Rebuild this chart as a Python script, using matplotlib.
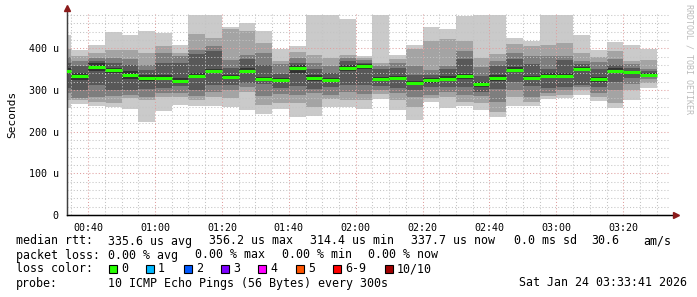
import numpy as np
from matplotlib import pyplot as plt

# ---------------- data (microseconds) ----------------
# 5 minute steps, value of each step covers (t-5min, t], minutes after 00:00
step_end = np.arange(35, 215, 5)

median = [346, 333, 355, 347, 337, 329, 330, 322, 334, 345,
          331, 346, 326, 325, 353, 330, 325, 354, 357, 327,
          330, 318, 323, 327, 333, 314, 329, 349, 329, 334,
          334, 350, 326, 346, 343, 337]

# 10 sorted pings per step
pings = [
    [258, 276, 292, 305, 340, 352, 365, 380, 398, 433],
    [267, 275, 282, 300, 325, 341, 358, 370, 382, 397],
    [262, 272, 283, 312, 345, 365, 370, 378, 390, 408],
    [259, 270, 285, 300, 340, 354, 365, 378, 397, 440],
    [254, 280, 288, 300, 326, 345, 360, 375, 397, 433],
    [224, 275, 283, 303, 322, 336, 348, 361, 389, 442],
    [250, 283, 292, 305, 325, 335, 365, 389, 406, 438],
    [263, 283, 294, 310, 318, 328, 365, 381, 390, 409],
    [262, 276, 286, 300, 328, 340, 387, 397, 435, 481],
    [262, 283, 296, 312, 340, 350, 393, 406, 426, 481],
    [260, 280, 300, 312, 326, 336, 352, 372, 447, 451],
    [251, 296, 308, 316, 340, 352, 374, 385, 442, 461],
    [243, 264, 286, 315, 322, 332, 361, 390, 414, 442],
    [255, 268, 290, 305, 320, 330, 339, 363, 369, 399],
    [236, 268, 288, 310, 342, 360, 365, 378, 392, 406],
    [238, 260, 292, 302, 322, 336, 350, 366, 385, 481],
    [260, 278, 288, 307, 320, 330, 341, 357, 377, 481],
    [259, 276, 296, 312, 345, 360, 369, 377, 385, 471],
    [255, 275, 290, 312, 350, 362, 366, 372, 376, 382],
    [279, 290, 300, 310, 322, 332, 350, 358, 365, 481],
    [252, 276, 292, 305, 324, 334, 352, 364, 374, 385],
    [228, 260, 284, 300, 314, 322, 337, 358, 398, 409],
    [272, 280, 288, 307, 318, 328, 337, 347, 417, 451],
    [256, 284, 295, 307, 322, 333, 350, 357, 422, 446],
    [262, 272, 288, 308, 326, 338, 374, 393, 417, 477],
    [251, 268, 286, 296, 308, 320, 334, 355, 377, 481],
    [235, 248, 272, 302, 322, 336, 358, 369, 386, 481],
    [262, 283, 300, 320, 343, 355, 374, 389, 411, 425],
    [262, 272, 283, 310, 324, 334, 363, 382, 406, 418],
    [278, 285, 292, 305, 328, 340, 350, 382, 409, 481],
    [280, 288, 300, 308, 328, 340, 372, 382, 414, 481],
    [288, 300, 307, 312, 345, 356, 363, 369, 389, 433],
    [274, 283, 294, 308, 320, 332, 350, 368, 379, 397],
    [258, 268, 300, 320, 340, 352, 361, 374, 393, 416],
    [276, 300, 315, 329, 340, 346, 352, 362, 370, 409],
    [305, 317, 326, 333, 335, 340, 345, 350, 371, 399],
]

tick_min = [40, 60, 80, 100, 120, 140, 160, 180, 200]
tick_lbl = ['00:40', '01:00', '01:20', '01:40', '02:00', '02:20', '02:40', '03:00', '03:20']
ytick_val = [0, 100, 200, 300, 400]
ytick_lbl = ['0', '100 u', '200 u', '300 u', '400 u']

loss_lbl = ['0', '1', '2', '3', '4', '5', '6-9', '10/10']
loss_col = ['#26ff00', '#00b8ff', '#0059ff', '#7e00ff', '#ff00ff', '#ff5500', '#ff0000', '#a00000']
loss_x = [109, 146, 184, 221, 258, 296, 333, 385]   # pixel x of each legend box

smoke_col = ['#cacaca', '#a4a4a4', '#7e7e7e', '#585858', '#323232']

# ---------------- figure ----------------
W, H = 697, 297
fig = plt.figure(figsize=(W / 100, H / 100), dpi=100)
fig.patch.set_facecolor('white')
ax = fig.add_axes([67 / W, 1 - 215 / H, 602 / W, 202 / H])

p = np.array(pings)
left = step_end - 5
for i in range(5):
    ax.bar(left, p[:, 9 - i] - p[:, i], bottom=p[:, i], width=5, align='edge',
           color=smoke_col[i], linewidth=0, zorder=1)
ax.hlines(median, left, step_end, color=loss_col[0], linewidth=2.2, zorder=3)

ax.set_xlim(33 + 41 / 60, 213 + 41 / 60)
ax.set_ylim(0, 485)

# grid
for m in range(35, 215, 5):
    major = m in tick_min
    ax.axvline(m, color='#e0a0a0' if major else '#c4c4c4', lw=0.75,
               ls=(0, (1, 2)), zorder=2)
for v in range(20, 485, 20):
    major = v % 100 == 0
    ax.axhline(v, color='#e0a0a0' if major else '#c4c4c4', lw=0.75,
               ls=(0, (1, 2)), zorder=2)

for s in ['top', 'right']:
    ax.spines[s].set_visible(False)
ax.spines['left'].set_color('#404040')
ax.spines['bottom'].set_color('black')
ax.plot([0, 1.01], [0, 0], color='black', lw=1, transform=ax.transAxes, clip_on=False)
ax.plot([0, 0], [0, 1.015], color='#404040', lw=1, transform=ax.transAxes, clip_on=False)
ax.plot([1.012], [0], marker='>', color='#8b1a1a', ms=4, transform=ax.transAxes, clip_on=False)
ax.plot([0], [1.025], marker='^', color='#8b1a1a', ms=4, transform=ax.transAxes, clip_on=False)

ax.set_xticks(tick_min)
ax.set_xticklabels(tick_lbl, family='DejaVu Sans Mono', fontsize=7.2)
ax.set_yticks(ytick_val)
ax.set_yticklabels(ytick_lbl, family='DejaVu Sans Mono', fontsize=7.2)
ax.tick_params(length=0, pad=6)
ax.set_ylabel('Seconds', family='DejaVu Sans Mono', fontsize=8, labelpad=8)

fig.text(689 / W, 1 - 4 / H, 'RRDTOOL / TOBI OETIKER', rotation=270, color='#bbbbbb',
         family='DejaVu Sans Mono', fontsize=6, ha='center', va='top')

# ---------------- legend text ----------------
mono = dict(family='DejaVu Sans Mono', fontsize=8.4, va='center', ha='left')


def t(x, y, s):
    fig.text(x / W, 1 - y / H, s, **mono)


t(16, 241, 'median rtt:')
t(108, 241, '335.6 us avg')
t(209, 241, '356.2 us max')
t(310, 241, '314.4 us min')
t(411, 241, '337.7 us now')
t(514, 241, '0.0 ms sd')
t(591, 241, '30.6')
t(643, 241, 'am/s')

t(16, 255, 'packet loss:')
t(108, 255, '0.00 % avg')
t(195, 255, '0.00 % max')
t(282, 255, '0.00 % min')
t(368, 255, '0.00 % now')

t(16, 269, 'loss color:')
for lx, lb, lc in zip(loss_x, loss_lbl, loss_col):
    fig.patches.append(plt.Rectangle((lx / W, 1 - 273 / H), 8 / W, 8 / H,
                                     facecolor=lc, edgecolor='black', lw=0.8,
                                     transform=fig.transFigure, figure=fig))
    t(lx + 12, 269, lb)

t(16, 283, 'probe:')
t(108, 283, '10 ICMP Echo Pings (56 Bytes) every 300s')
fig.text(687 / W, 1 - 283 / H, 'Sat Jan 24 03:33:41 2026',
         family='DejaVu Sans Mono', fontsize=8.4, va='center', ha='right')

fig.savefig('out.png', dpi=100)
